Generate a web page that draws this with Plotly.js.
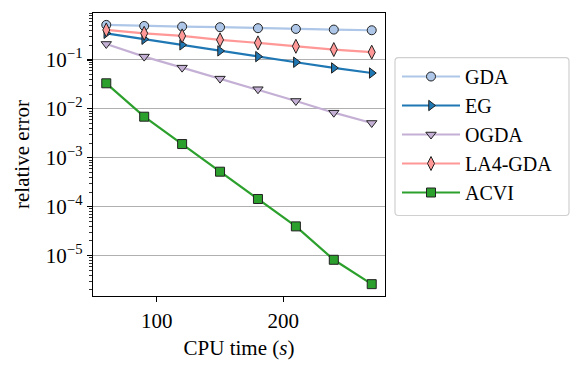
<!DOCTYPE html>
<html>
<head>
<meta charset="utf-8">
<script src="https://cdn.plot.ly/plotly-3.0.1.min.js"></script>
<style>html,body{margin:0;padding:0;background:#fff}#chart{width:582px;height:370px}</style>
</head>
<body>
<div id="chart"></div>
<script>
const cpuTime = [60, 90, 120, 150, 180, 210, 240, 270];
const gda   = [0.52, 0.495, 0.48, 0.466, 0.445, 0.43, 0.417, 0.404];
const eg    = [0.35, 0.265, 0.203, 0.153, 0.117, 0.0897, 0.0686, 0.054];
const ogda  = [0.212, 0.117, 0.0696, 0.0415, 0.0252, 0.0145, 0.00836, 0.00515];
const la4   = [0.41, 0.35, 0.31, 0.257, 0.223, 0.19, 0.163, 0.144];
const acvi  = [0.0333, 0.00692, 0.00191, 0.00052, 0.000144, 0.0000397, 0.00000824, 0.00000262];

const seriesNames = ['GDA', 'EG', 'OGDA', 'LA4-GDA', 'ACVI'];
const seriesData = [gda, eg, ogda, la4, acvi];
const colors = ['#aec7e8', '#1f77b4', '#c5b0d5', '#ff9896', '#2ca02c'];
const symbols = ['circle', 'triangle-right', 'triangle-down', 'diamond-tall', 'square'];

const yTickVals = [1e-5, 1e-4, 1e-3, 1e-2, 1e-1];
const yTickText = ['10<sup>−5</sup>', '10<sup>−4</sup>', '10<sup>−3</sup>', '10<sup>−2</sup>', '10<sup>−1</sup>'];
const minorVals = [];
for (let e = -6; e <= 0; e++) for (let m = 2; m <= 9; m++) minorVals.push(m * Math.pow(10, e));

const traces = seriesNames.map((n, i) => ({
  x: cpuTime, y: seriesData[i], name: n, type: 'scatter', mode: 'lines+markers',
  line: {color: colors[i], width: 2.2},
  marker: {symbol: symbols[i], size: symbols[i] === 'diamond-tall' ? 10 : 9, color: colors[i], line: {color: '#222', width: 1}}
}));

// layout geometry (pixels)
const W = 582, H = 370, L = 93, R = 385, T = 13, B = 296;
const px = v => (v - L) / (R - L);
const py = v => (B - v) / (B - T);
function roundRect(x0, y0, x1, y1, r) {
  const X = v => px(v), Y = v => py(v);
  return `M${X(x0 + r)},${Y(y0)} L${X(x1 - r)},${Y(y0)} Q${X(x1)},${Y(y0)} ${X(x1)},${Y(y0 + r)} ` +
         `L${X(x1)},${Y(y1 - r)} Q${X(x1)},${Y(y1)} ${X(x1 - r)},${Y(y1)} ` +
         `L${X(x0 + r)},${Y(y1)} Q${X(x0)},${Y(y1)} ${X(x0)},${Y(y1 - r)} ` +
         `L${X(x0)},${Y(y0 + r)} Q${X(x0)},${Y(y0)} ${X(x0 + r)},${Y(y0)} Z`;
}

const fam = '"Liberation Serif", "DejaVu Serif", serif';
const layout = {
  width: W, height: H,
  margin: {l: L, r: W - R, t: T, b: H - B},
  paper_bgcolor: '#fff', plot_bgcolor: '#fff',
  font: {family: fam, size: 21, color: '#000'},
  showlegend: true,
  legend: {x: px(397), y: py(57), xanchor: 'left', yanchor: 'top', borderwidth: 0,
           itemwidth: 58, tracegroupgap: 0,
           font: {family: fam, size: 20, color: '#000'}, bgcolor: 'rgba(0,0,0,0)'},
  shapes: [{type: 'path', xref: 'paper', yref: 'paper', path: roundRect(395, 57.7, 569, 215.5, 3.5),
            line: {color: '#d0d0d0', width: 1.2}, fillcolor: 'rgba(255,255,255,0.8)', layer: 'below'}],
  xaxis: {
    range: [49.5, 280.5], tickvals: [100, 200], ticktext: ['100', '200'],
    ticks: 'outside', ticklen: 5, tickwidth: 1.2, tickcolor: '#000',
    showgrid: false, zeroline: false,
    showline: true, linecolor: '#000', linewidth: 1.3, mirror: true,
    title: {text: 'CPU time (<i>s</i>)', font: {family: fam, size: 21}, standoff: 8},
    tickfont: {family: fam, size: 21}
  },
  yaxis: {
    type: 'log', range: [Math.log10(1.5e-6), Math.log10(0.91)],
    tickvals: yTickVals, ticktext: yTickText,
    ticks: 'outside', ticklen: 5, tickwidth: 1.2, tickcolor: '#000',
    showgrid: true, gridcolor: '#b0b0b0', gridwidth: 1,
    zeroline: false, showline: true, linecolor: '#000', linewidth: 1.3, mirror: true,
    minor: {tickvals: minorVals, ticks: 'outside', ticklen: 2.5, tickcolor: '#000', tickwidth: 0.8, showgrid: false},
    title: {text: 'relative error', font: {family: fam, size: 21}, standoff: 10},
    tickfont: {family: fam, size: 21}
  }
};
Plotly.newPlot('chart', traces, layout, {staticPlot: true, displayModeBar: false});
</script>
</body>
</html>
